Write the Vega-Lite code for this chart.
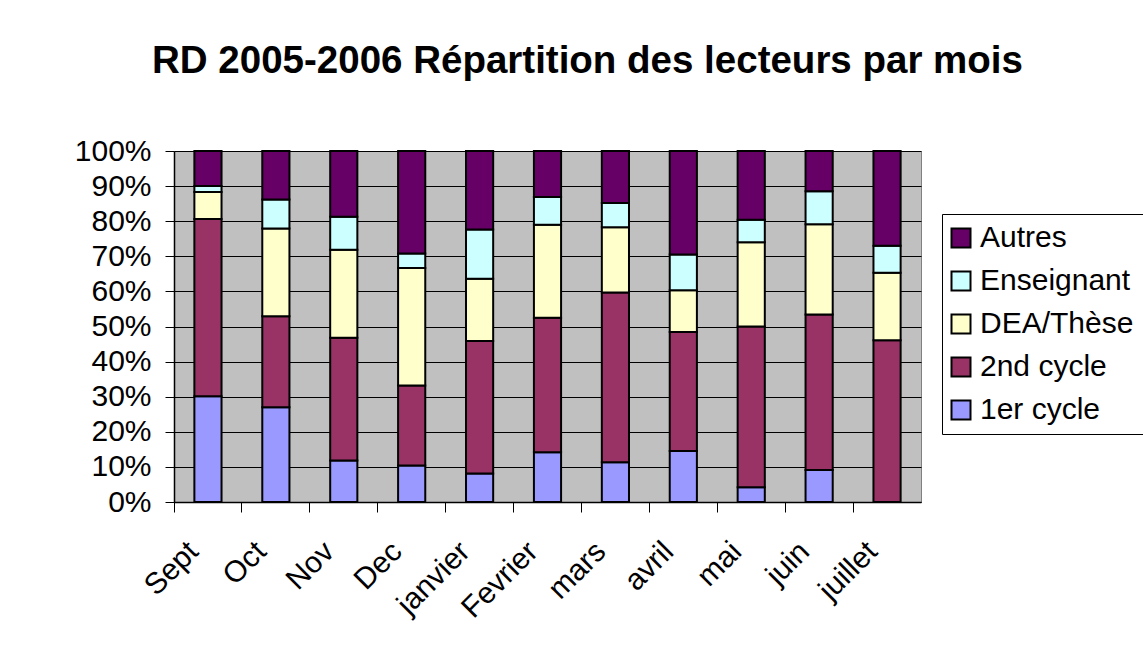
{
  "$schema": "https://vega.github.io/schema/vega-lite/v6.json",
  "width": 747,
  "height": 351,
  "autosize": {"type": "none"},
  "padding": {"left": 174, "top": 151, "right": 222, "bottom": 144},
  "background": "white",
  "title": {
    "text": "RD 2005-2006 Répartition des lecteurs par mois",
    "font": "Liberation Sans",
    "fontSize": 38.5,
    "fontWeight": "bold",
    "color": "black",
    "anchor": "middle",
    "frame": "group",
    "dx": 40,
    "offset": 55
  },
  "config": {
    "font": "Liberation Sans",
    "view": {"fill": "#C0C0C0", "stroke": "#808080", "strokeWidth": 1}
  },
  "data": {
    "values": [
      {"mois": "Sept", "cat": "1er cycle", "v": 30.1},
      {"mois": "Sept", "cat": "2nd cycle", "v": 50.5},
      {"mois": "Sept", "cat": "DEA/Thèse", "v": 7.7},
      {"mois": "Sept", "cat": "Enseignant", "v": 1.7},
      {"mois": "Sept", "cat": "Autres", "v": 10.0},
      {"mois": "Oct", "cat": "1er cycle", "v": 27.0},
      {"mois": "Oct", "cat": "2nd cycle", "v": 25.9},
      {"mois": "Oct", "cat": "DEA/Thèse", "v": 25.0},
      {"mois": "Oct", "cat": "Enseignant", "v": 8.3},
      {"mois": "Oct", "cat": "Autres", "v": 13.8},
      {"mois": "Nov", "cat": "1er cycle", "v": 11.8},
      {"mois": "Nov", "cat": "2nd cycle", "v": 35.0},
      {"mois": "Nov", "cat": "DEA/Thèse", "v": 25.1},
      {"mois": "Nov", "cat": "Enseignant", "v": 9.4},
      {"mois": "Nov", "cat": "Autres", "v": 18.7},
      {"mois": "Dec", "cat": "1er cycle", "v": 10.4},
      {"mois": "Dec", "cat": "2nd cycle", "v": 22.8},
      {"mois": "Dec", "cat": "DEA/Thèse", "v": 33.5},
      {"mois": "Dec", "cat": "Enseignant", "v": 4.1},
      {"mois": "Dec", "cat": "Autres", "v": 29.2},
      {"mois": "janvier", "cat": "1er cycle", "v": 8.1},
      {"mois": "janvier", "cat": "2nd cycle", "v": 37.8},
      {"mois": "janvier", "cat": "DEA/Thèse", "v": 17.7},
      {"mois": "janvier", "cat": "Enseignant", "v": 14.0},
      {"mois": "janvier", "cat": "Autres", "v": 22.4},
      {"mois": "Fevrier", "cat": "1er cycle", "v": 14.2},
      {"mois": "Fevrier", "cat": "2nd cycle", "v": 38.3},
      {"mois": "Fevrier", "cat": "DEA/Thèse", "v": 26.5},
      {"mois": "Fevrier", "cat": "Enseignant", "v": 7.9},
      {"mois": "Fevrier", "cat": "Autres", "v": 13.1},
      {"mois": "mars", "cat": "1er cycle", "v": 11.3},
      {"mois": "mars", "cat": "2nd cycle", "v": 48.4},
      {"mois": "mars", "cat": "DEA/Thèse", "v": 18.6},
      {"mois": "mars", "cat": "Enseignant", "v": 6.9},
      {"mois": "mars", "cat": "Autres", "v": 14.8},
      {"mois": "avril", "cat": "1er cycle", "v": 14.5},
      {"mois": "avril", "cat": "2nd cycle", "v": 33.9},
      {"mois": "avril", "cat": "DEA/Thèse", "v": 11.9},
      {"mois": "avril", "cat": "Enseignant", "v": 10.2},
      {"mois": "avril", "cat": "Autres", "v": 29.5},
      {"mois": "mai", "cat": "1er cycle", "v": 4.2},
      {"mois": "mai", "cat": "2nd cycle", "v": 45.8},
      {"mois": "mai", "cat": "DEA/Thèse", "v": 24.0},
      {"mois": "mai", "cat": "Enseignant", "v": 6.4},
      {"mois": "mai", "cat": "Autres", "v": 19.6},
      {"mois": "juin", "cat": "1er cycle", "v": 9.1},
      {"mois": "juin", "cat": "2nd cycle", "v": 44.3},
      {"mois": "juin", "cat": "DEA/Thèse", "v": 25.7},
      {"mois": "juin", "cat": "Enseignant", "v": 9.4},
      {"mois": "juin", "cat": "Autres", "v": 11.5},
      {"mois": "juillet", "cat": "1er cycle", "v": 0},
      {"mois": "juillet", "cat": "2nd cycle", "v": 46.1},
      {"mois": "juillet", "cat": "DEA/Thèse", "v": 19.2},
      {"mois": "juillet", "cat": "Enseignant", "v": 7.7},
      {"mois": "juillet", "cat": "Autres", "v": 27.0}
    ]
  },
  "transform": [
    {"calculate": "indexof(['1er cycle','2nd cycle','DEA/Thèse','Enseignant','Autres'], datum.cat)", "as": "ord"}
  ],
  "mark": {"type": "bar", "width": {"band": 0.4}, "stroke": "black", "strokeWidth": 2, "opacity": 1},
  "encoding": {
    "x": {
      "field": "mois",
      "type": "nominal",
      "sort": null,
      "scale": {"paddingInner": 0, "paddingOuter": 0},
      "axis": {
        "title": null,
        "bandPosition": 0,
        "labelOffset": -25,
        "labelAngle": -45,
        "labelAlign": "right",
        "labelBaseline": "top",
        "labelPadding": 24,
        "labelFontSize": 30,
        "labelColor": "black",
        "labelFont": "Liberation Sans",
        "tickSize": 10,
        "tickColor": "black",
        "domainColor": "black",
        "domainWidth": 1.5,
        "grid": false
      }
    },
    "y": {
      "field": "v",
      "type": "quantitative",
      "stack": "normalize",
      "scale": {"domain": [0, 1], "nice": false},
      "axis": {
        "title": null,
        "format": ".0%",
        "values": [0, 0.1, 0.2, 0.3, 0.4, 0.5, 0.6, 0.7, 0.8, 0.9, 1],
        "labelFontSize": 30,
        "labelColor": "black",
        "labelFont": "Liberation Sans",
        "labelPadding": 14,
        "tickSize": 9,
        "tickColor": "black",
        "domainColor": "black",
        "domainWidth": 1.5,
        "grid": true,
        "gridColor": "black",
        "gridWidth": 1,
        "gridOpacity": 1
      }
    },
    "color": {
      "field": "cat",
      "type": "nominal",
      "scale": {
        "domain": ["Autres", "Enseignant", "DEA/Thèse", "2nd cycle", "1er cycle"],
        "range": ["#660066", "#CCFFFF", "#FFFFCC", "#993366", "#9999FF"]
      },
      "legend": {
        "title": null,
        "orient": "none",
        "legendX": 768,
        "legendY": 63,
        "strokeColor": "black",
        "fillColor": "white",
        "padding": 9,
        "symbolType": "square",
        "symbolSize": 361,
        "symbolOffset": -5,
        "symbolStrokeColor": "black",
        "symbolStrokeWidth": 2,
        "symbolOpacity": 1,
        "labelFontSize": 30,
        "labelFont": "Liberation Sans",
        "labelColor": "black",
        "labelOffset": 4,
        "rowPadding": 13
      }
    },
    "order": {"field": "ord", "type": "quantitative", "sort": "ascending"}
  }
}
